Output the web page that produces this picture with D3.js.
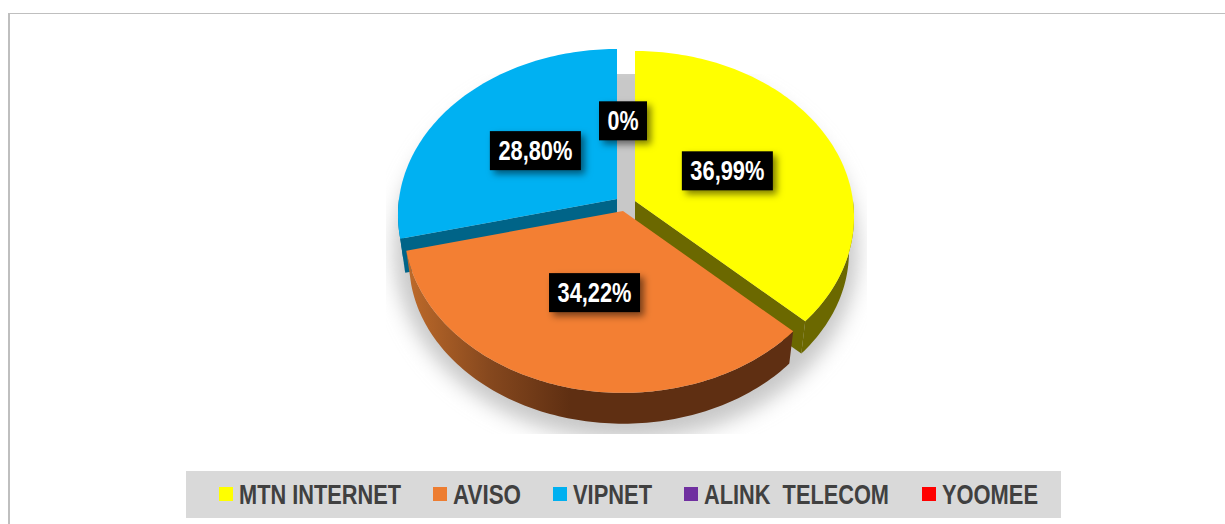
<!DOCTYPE html>
<html><head><meta charset="utf-8">
<script src="https://cdn.jsdelivr.net/npm/d3@7/dist/d3.min.js"></script>
<style>html,body{margin:0;padding:0;background:#fff;overflow:hidden}svg{display:block}</style>
</head><body><svg id="c" width="1225" height="524"></svg>
<script>
const categories = ["MTN INTERNET","AVISO","VIPNET","ALINK  TELECOM","YOOMEE"];
const shares = [36.99,34.22,28.80,0,0];
const shareLabels = ["36,99%","34,22%","28,80%","0%",null];
const colors = ["#ffff00","#ed7d31","#00b0f0","#7030a0","#ff0000"];

// layout
const W=1225,H=524;
const sx=218, sy=164.4, persp=0.096, depth=35, bottomScale=0.977;
const apex=[[635,201],[623,211],[617,199],[623,200],[623,200]];
const topFill=["#ffff00","#f37f33","#00b1f2","#7030a0","#ff0000"];
const wallFill=["#6b6800",null,"#006488","#3c1a56","#800000"];
const cutFill=["#6b6800","#5f2f12","#006488","#3c1a56","#800000"];
const labelR=[0.47,0.49,0.49,0.505,0.46];
const legendSwatchX=[219,433,553,684,922];
const legendTextX=[239,453,573,704,942];
const legendTextW=[162,68,79,185,96];

const svg=d3.select("#c");
const defs=svg.append("defs");
defs.append("filter").attr("id","blur").attr("x","-20%").attr("y","-20%").attr("width","140%").attr("height","140%")
  .append("feGaussianBlur").attr("stdDeviation",10);
const ds=defs.append("filter").attr("id","ds").attr("x","-30%").attr("y","-30%").attr("width","170%").attr("height","170%");
ds.append("feDropShadow").attr("dx",4).attr("dy",4).attr("stdDeviation",3.5).attr("flood-color","#000").attr("flood-opacity",0.5);
defs.append("clipPath").attr("id","shClip").append("rect").attr("x",386).attr("y",74).attr("width",481).attr("height",360);
const grad=defs.append("linearGradient").attr("id","orangeWall").attr("gradientUnits","userSpaceOnUse")
  .attr("x1",408).attr("x2",570).attr("y1",0).attr("y2",0);
grad.append("stop").attr("offset",0).attr("stop-color","#bd6a2a");
grad.append("stop").attr("offset",0.5).attr("stop-color","#86481e");
grad.append("stop").attr("offset",1).attr("stop-color","#5f2f12");

// frame
svg.append("rect").attr("x",8).attr("y",13).attr("width",2).attr("height",H-13).attr("fill","#bfbfbf");
svg.append("rect").attr("x",8).attr("y",13).attr("width",W-8).attr("height",1).attr("fill","#bfbfbf");

// shadow
svg.append("g").attr("clip-path","url(#shClip)")
  .append("ellipse").attr("cx",626).attr("cy",250).attr("rx",232).attr("ry",190)
  .attr("fill","#c8c8c8").attr("filter","url(#blur)");

const pie=d3.pie().sort(null).value(d=>d)(shares);

function proj(i,theta,r,z){
  const px=r*Math.sin(theta), py=-r*Math.cos(theta);
  const w=1-persp*py, f=1-(1-bottomScale)*z;
  return [apex[i][0]+sx*px/w*f, apex[i][1]+sy*py/w*f+depth*z];
}
const line=d3.line();
function arcPts(i,a,b,z){
  const n=Math.max(2,Math.ceil(Math.abs(b-a)/0.02));
  return d3.range(n+1).map(k=>proj(i,a+(b-a)*k/n,1,z));
}
const slices=pie.map((d,i)=>({i,a:d.startAngle,b:d.endAngle,value:d.value})).filter(d=>d.value>0);
// back-to-front: blue, yellow, orange
[2,0,1].forEach(idx=>{
  const s=slices[idx], i=s.i, g=svg.append("g").attr("class","slice");
  [s.a,s.b].forEach(t=>{
    const faces = (i===0&&t===s.b)||(i===2&&t===s.a);
    if(!faces) return;
    g.append("path").attr("fill",cutFill[i]).attr("d",line([
      proj(i,t,0,0),proj(i,t,1,0),proj(i,t,1,1),proj(i,t,0,1)])+"Z");
  });
  const fa=Math.max(s.a,Math.PI/2), fb=Math.min(s.b,3*Math.PI/2);
  if(fb>fa){
    const wall=arcPts(i,fa,fb,0).concat(arcPts(i,fb,fa,1));
    g.append("path").attr("fill",wallFill[i]||"url(#orangeWall)").attr("d",line(wall)+"Z");
  }
  const top=[proj(i,0,0,0)].concat(arcPts(i,s.a,s.b,0));
  g.append("path").attr("fill",topFill[i]).attr("d",line(top)+"Z");
});

// labels
pie.forEach((d,i)=>{
  if(shareLabels[i]===null) return;
  const mid=(d.startAngle+d.endAngle)/2;
  const p=proj(i,mid,labelR[i],0);
  const long=shareLabels[i].length>2;
  const bw=long?91:48, bh=39;
  const g=svg.append("g").attr("transform",`translate(${p[0]},${p[1]})`);
  g.append("rect").attr("x",-bw/2).attr("y",-bh/2).attr("width",bw).attr("height",bh).attr("fill","#000").attr("filter","url(#ds)");
  g.append("text").attr("text-anchor","middle").attr("y",9.5)
    .attr("font-family","'Liberation Sans Narrow','Liberation Sans',sans-serif").attr("font-weight",700).attr("font-size",27)
    .attr("fill","#fff").attr("textLength",long?74:31).attr("lengthAdjust","spacingAndGlyphs").text(shareLabels[i]);
});

// legend
svg.append("rect").attr("x",186).attr("y",471).attr("width",875).attr("height",47).attr("fill","#d9d9d9");
categories.forEach((c,i)=>{
  svg.append("rect").attr("x",legendSwatchX[i]).attr("y",487).attr("width",14).attr("height",14).attr("fill",colors[i]);
  svg.append("text").attr("x",legendTextX[i]).attr("y",503.5)
    .attr("font-family","'Liberation Sans Narrow','Liberation Sans',sans-serif").attr("font-weight",700).attr("font-size",27)
    .attr("fill","#404040").attr("xml:space","preserve").style("white-space","pre")
    .attr("textLength",legendTextW[i]).attr("lengthAdjust","spacingAndGlyphs").text(c);
});
</script></body></html>
